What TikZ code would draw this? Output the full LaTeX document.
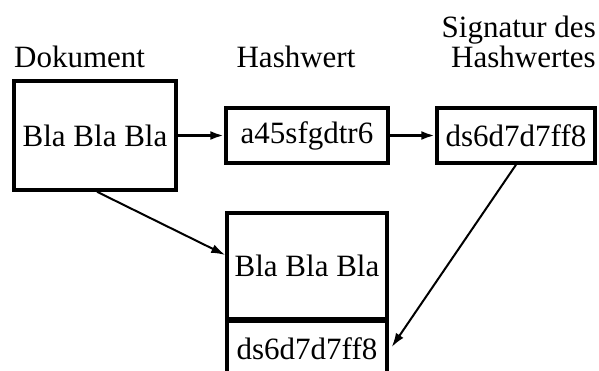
\documentclass[tikz,border=0pt]{standalone}
\usepackage{fontspec}
\setmainfont{Liberation Serif}
\usetikzlibrary{arrows.meta,calc}
\tikzset{
  box/.style={draw, line width=3.5pt, inner sep=0pt, font=\fontsize{31}{34}\selectfont},
  caption/.style={inner sep=0pt, font=\fontsize{31}{34}\selectfont},
  link/.style={line width=2pt, -{Latex[length=14pt,width=9pt]}},
  hlink/.style={line width=3pt, -{Latex[length=14pt,width=9pt]}}
}
\begin{document}
\begin{tikzpicture}[x=1pt,y=-1pt]
\useasboundingbox (0,0) rectangle (599,371);
\clip (0,0) rectangle (599,371);
% document, hash and signature
\node[box, minimum width=162pt, minimum height=109pt] (doc) at (95,135.5) {Bla Bla Bla};
\node[box, minimum width=162pt, minimum height=55pt] (hash) at (307,135.5) {a45sfgdtr6};
\node[box, minimum width=158pt, minimum height=55pt] (sig) at (516,135.5) {ds6d7d7ff8};
% signed document: text plus attached signature
\node[box, minimum width=160pt, minimum height=106pt] (msg) at (307,266) {Bla Bla Bla};
\node[box, minimum width=160pt, minimum height=56pt] (msgsig) at (307,349) {ds6d7d7ff8};
% headings
\node[caption, anchor=base west] (tdoc) at (14,68) {Dokument};
\node[caption, anchor=base] (thash) at (296,68) {Hashwert};
\node[caption, anchor=base east, align=right] (tsig) at (596,68) {Hashwertes};
\node[caption, anchor=base east] (tsig2) at (596,38) {Signatur des};
% connectors
\coordinate (docout) at ($(doc.south)+(2,0)$);
\coordinate (msgin) at ($(msg.west)+(0,-11)$);
\draw[hlink] (doc.east) -- (hash.west);
\draw[hlink] (hash.east) -- (sig.west);
\draw[link] (docout) -- (msgin);
\draw[link] (sig.south) -- ($(msgsig.east)+(3,-2)$);
\end{tikzpicture}
\end{document}
